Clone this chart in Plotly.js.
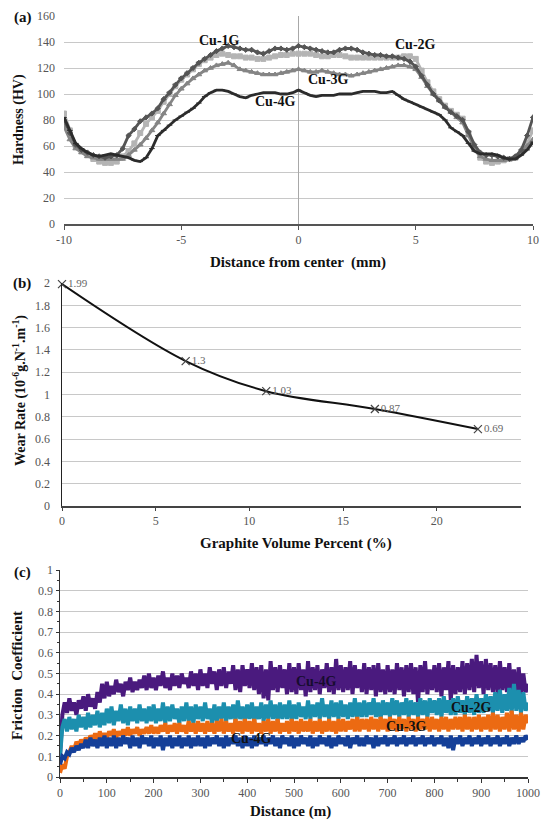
<!DOCTYPE html>
<html>
<head>
<meta charset="utf-8">
<script src="https://cdn.plot.ly/plotly-3.0.1.min.js"></script>
<style>
  html, body { margin: 0; padding: 0; background: #fff; }
  #chart { width: 542px; height: 820px; }
</style>
</head>
<body>
<div id="chart"></div>
<script>
// ---------- (a) hardness profiles ----------
const hardnessPos = [
  -10, -9.75, -9.5, -9.25, -9, -8.75, -8.5, -8.25,
  -8, -7.75, -7.5, -7.25, -7, -6.75, -6.5, -6.25,
  -6, -5.75, -5.5, -5.25, -5, -4.75, -4.5, -4.25,
  -4, -3.75, -3.5, -3.25, -3, -2.75, -2.5, -2.25,
  -2, -1.75, -1.5, -1.25, -1, -0.75, -0.5, -0.25,
  0, 0.25, 0.5, 0.75, 1, 1.25, 1.5, 1.75,
  2, 2.25, 2.5, 2.75, 3, 3.25, 3.5, 3.75,
  4, 4.25, 4.5, 4.75, 5, 5.25, 5.5, 5.75,
  6, 6.25, 6.5, 6.75, 7, 7.25, 7.5, 7.75,
  8, 8.25, 8.5, 8.75, 9, 9.25, 9.5, 9.75,
  10
];
const hardnessTickVals = [-10, -5, 0, 5, 10];
const hardnessTickText = ['-10', '-5', '0', '5', '10'];

const hardnessCu1G = [
  80, 70, 61, 57, 55, 53, 52, 51,
  52, 53, 58, 68, 73, 79, 82, 85,
  89, 96, 101, 107, 112, 116, 120, 124,
  127, 130, 133, 135, 137, 136, 135, 134,
  134, 132, 131, 133, 135, 135, 134, 135,
  137, 136, 135, 134, 133, 132, 132, 134,
  135, 135, 134, 132, 131, 130, 130, 129,
  129, 128, 127, 125, 121, 114, 107, 100,
  95, 90, 86, 83, 80, 71, 61, 55,
  53, 53, 52, 51, 50, 52, 57, 68,
  82
];
const hardnessCu2G = [
  85, 72, 60, 56, 53, 50, 48, 47,
  47, 48, 52, 56, 62, 70, 77, 82,
  87, 94, 100, 106, 111, 115, 119, 123,
  126, 128, 130, 131, 130, 129, 129, 128,
  128, 127, 127, 128, 129, 130, 130, 131,
  131, 131, 131, 130, 129, 129, 130, 130,
  129, 128, 128, 128, 128, 128, 128, 128,
  128, 128, 129, 129, 127, 118, 109, 102,
  96, 91, 87, 84, 81, 70, 58, 51,
  48, 47, 48, 49, 50, 51, 55, 62,
  72
];
const hardnessCu3G = [
  75, 65, 58, 55, 52, 51, 50, 50,
  50, 50, 50, 53, 57, 61, 66, 72,
  78, 85, 92, 99, 104, 108, 112, 115,
  118, 120, 122, 123, 124, 122, 119, 118,
  117, 116, 115, 115, 115, 116, 117, 118,
  119, 118, 117, 117, 118, 117, 116, 115,
  115, 114, 115, 116, 117, 118, 119, 120,
  121, 122, 122, 121, 119, 113, 106, 100,
  95, 90, 86, 82, 78, 68, 58, 52,
  50, 49, 49, 49, 50, 51, 55, 60,
  65
];
const hardnessCu4G = [
  82, 72, 62, 58, 55, 53, 52, 53,
  54, 53, 52, 51, 49, 48, 51, 58,
  68, 72, 76, 80, 83, 86, 89, 93,
  98, 101, 103, 103, 102, 100, 98, 97,
  99, 100, 101, 101, 101, 100, 100, 101,
  103, 101, 99, 98, 99, 99, 99, 100,
  100, 100, 101, 102, 102, 102, 101, 101,
  102, 99, 96, 94, 92, 90, 88, 86,
  84, 80, 74, 71, 68, 62, 56, 54,
  54, 54, 53, 51, 50, 50, 53, 57,
  63
];

// ---------- (b) wear rate ----------
const graphiteVol = [0, 6.6, 10.9, 16.7, 22.2];
const wearRate = [1.99, 1.3, 1.03, 0.87, 0.69];
const wearLabels = ['1.99', '1.3', '1.03', '0.87', '0.69'];

// ---------- (c) friction coefficient vs sliding distance (sampled every 5 m) ----------
const slideDist = [
  0, 5, 10, 15, 20, 25, 30, 35, 40, 45,
  50, 55, 60, 65, 70, 75, 80, 85, 90, 95,
  100, 105, 110, 115, 120, 125, 130, 135, 140, 145,
  150, 155, 160, 165, 170, 175, 180, 185, 190, 195,
  200, 205, 210, 215, 220, 225, 230, 235, 240, 245,
  250, 255, 260, 265, 270, 275, 280, 285, 290, 295,
  300, 305, 310, 315, 320, 325, 330, 335, 340, 345,
  350, 355, 360, 365, 370, 375, 380, 385, 390, 395,
  400, 405, 410, 415, 420, 425, 430, 435, 440, 445,
  450, 455, 460, 465, 470, 475, 480, 485, 490, 495,
  500, 505, 510, 515, 520, 525, 530, 535, 540, 545,
  550, 555, 560, 565, 570, 575, 580, 585, 590, 595,
  600, 605, 610, 615, 620, 625, 630, 635, 640, 645,
  650, 655, 660, 665, 670, 675, 680, 685, 690, 695,
  700, 705, 710, 715, 720, 725, 730, 735, 740, 745,
  750, 755, 760, 765, 770, 775, 780, 785, 790, 795,
  800, 805, 810, 815, 820, 825, 830, 835, 840, 845,
  850, 855, 860, 865, 870, 875, 880, 885, 890, 895,
  900, 905, 910, 915, 920, 925, 930, 935, 940, 945,
  950, 955, 960, 965, 970, 975, 980, 985, 990, 995,
  1000
];
const frictionPurple = [
  0.10, 0.30, 0.36, 0.31, 0.38, 0.32, 0.36, 0.30, 0.37, 0.33,
  0.39, 0.32, 0.40, 0.34, 0.38, 0.33, 0.41, 0.36, 0.45, 0.38,
  0.46, 0.39, 0.44, 0.40, 0.47, 0.41, 0.45, 0.39, 0.46, 0.42,
  0.48, 0.41, 0.46, 0.42, 0.47, 0.43, 0.49, 0.42, 0.50, 0.43,
  0.48, 0.42, 0.49, 0.44, 0.51, 0.43, 0.48, 0.42, 0.50, 0.44,
  0.49, 0.43, 0.50, 0.45, 0.48, 0.43, 0.51, 0.44, 0.50, 0.42,
  0.52, 0.44, 0.50, 0.43, 0.53, 0.45, 0.51, 0.42, 0.52, 0.44,
  0.53, 0.43, 0.51, 0.45, 0.54, 0.42, 0.52, 0.41, 0.54, 0.44,
  0.52, 0.43, 0.55, 0.42, 0.53, 0.40, 0.54, 0.38, 0.52, 0.37,
  0.56, 0.42, 0.53, 0.41, 0.54, 0.43, 0.52, 0.40, 0.55, 0.41,
  0.53, 0.40, 0.55, 0.42, 0.52, 0.39, 0.56, 0.41, 0.53, 0.42,
  0.54, 0.40, 0.52, 0.43, 0.55, 0.41, 0.53, 0.40, 0.57, 0.42,
  0.54, 0.41, 0.53, 0.42, 0.56, 0.40, 0.54, 0.43, 0.52, 0.41,
  0.55, 0.40, 0.53, 0.42, 0.54, 0.39, 0.55, 0.41, 0.52, 0.40,
  0.54, 0.41, 0.52, 0.40, 0.55, 0.42, 0.53, 0.39, 0.54, 0.41,
  0.55, 0.40, 0.53, 0.36, 0.54, 0.41, 0.56, 0.40, 0.52, 0.42,
  0.54, 0.41, 0.55, 0.39, 0.53, 0.42, 0.56, 0.37, 0.54, 0.40,
  0.53, 0.41, 0.56, 0.40, 0.55, 0.42, 0.57, 0.41, 0.59, 0.43,
  0.56, 0.40, 0.57, 0.42, 0.55, 0.41, 0.54, 0.40, 0.56, 0.42,
  0.53, 0.41, 0.55, 0.40, 0.52, 0.38, 0.53, 0.40, 0.50, 0.41,
  0.45
];
const frictionTeal = [
  0.10, 0.24, 0.28, 0.22, 0.29, 0.23, 0.28, 0.22, 0.30, 0.24,
  0.29, 0.23, 0.31, 0.24, 0.30, 0.25, 0.32, 0.24, 0.31, 0.25,
  0.33, 0.26, 0.34, 0.25, 0.32, 0.27, 0.35, 0.26, 0.33, 0.25,
  0.34, 0.27, 0.33, 0.26, 0.35, 0.27, 0.33, 0.26, 0.34, 0.27,
  0.35, 0.26, 0.33, 0.27, 0.36, 0.26, 0.34, 0.27, 0.35, 0.28,
  0.33, 0.26, 0.34, 0.27, 0.36, 0.27, 0.34, 0.26, 0.35, 0.28,
  0.34, 0.27, 0.36, 0.28, 0.33, 0.26, 0.35, 0.27, 0.34, 0.28,
  0.36, 0.27, 0.34, 0.28, 0.35, 0.27, 0.37, 0.28, 0.34, 0.27,
  0.35, 0.28, 0.36, 0.27, 0.34, 0.28, 0.36, 0.27, 0.35, 0.28,
  0.37, 0.28, 0.35, 0.27, 0.36, 0.28, 0.35, 0.28, 0.37, 0.27,
  0.35, 0.28, 0.36, 0.29, 0.34, 0.28, 0.37, 0.28, 0.35, 0.29,
  0.36, 0.28, 0.38, 0.29, 0.35, 0.28, 0.37, 0.29, 0.36, 0.28,
  0.37, 0.29, 0.35, 0.28, 0.36, 0.29, 0.38, 0.28, 0.36, 0.29,
  0.37, 0.29, 0.36, 0.30, 0.38, 0.29, 0.36, 0.28, 0.37, 0.30,
  0.36, 0.29, 0.38, 0.30, 0.37, 0.29, 0.36, 0.30, 0.38, 0.29,
  0.37, 0.30, 0.36, 0.29, 0.38, 0.30, 0.37, 0.29, 0.38, 0.31,
  0.37, 0.30, 0.38, 0.29, 0.39, 0.31, 0.37, 0.30, 0.38, 0.30,
  0.39, 0.31, 0.37, 0.30, 0.39, 0.31, 0.38, 0.30, 0.40, 0.31,
  0.38, 0.31, 0.40, 0.32, 0.39, 0.31, 0.41, 0.32, 0.42, 0.31,
  0.40, 0.32, 0.43, 0.31, 0.45, 0.32, 0.42, 0.31, 0.41, 0.32,
  0.36
];
const frictionOrange = [
  0.02, 0.06, 0.04, 0.10, 0.12, 0.15, 0.13, 0.17, 0.15, 0.18,
  0.16, 0.19, 0.17, 0.20, 0.18, 0.21, 0.18, 0.22, 0.19, 0.21,
  0.19, 0.22, 0.20, 0.23, 0.19, 0.22, 0.20, 0.23, 0.20, 0.24,
  0.20, 0.23, 0.21, 0.24, 0.20, 0.23, 0.21, 0.24, 0.21, 0.25,
  0.21, 0.24, 0.21, 0.25, 0.22, 0.26, 0.21, 0.25, 0.22, 0.26,
  0.21, 0.26, 0.22, 0.25, 0.21, 0.27, 0.22, 0.26, 0.21, 0.27,
  0.22, 0.26, 0.21, 0.27, 0.22, 0.26, 0.21, 0.27, 0.22, 0.28,
  0.21, 0.27, 0.22, 0.26, 0.21, 0.28, 0.22, 0.27, 0.21, 0.28,
  0.22, 0.27, 0.21, 0.28, 0.22, 0.26, 0.21, 0.27, 0.22, 0.28,
  0.21, 0.27, 0.22, 0.28, 0.21, 0.26, 0.22, 0.27, 0.21, 0.28,
  0.22, 0.27, 0.21, 0.28, 0.22, 0.27, 0.22, 0.28, 0.21, 0.27,
  0.22, 0.28, 0.21, 0.27, 0.22, 0.28, 0.22, 0.27, 0.21, 0.28,
  0.22, 0.28, 0.22, 0.27, 0.23, 0.28, 0.22, 0.29, 0.22, 0.28,
  0.23, 0.28, 0.22, 0.29, 0.23, 0.28, 0.22, 0.29, 0.23, 0.28,
  0.22, 0.29, 0.23, 0.28, 0.22, 0.29, 0.23, 0.28, 0.22, 0.29,
  0.23, 0.28, 0.22, 0.29, 0.23, 0.28, 0.23, 0.29, 0.22, 0.29,
  0.23, 0.28, 0.22, 0.29, 0.23, 0.29, 0.22, 0.28, 0.23, 0.29,
  0.23, 0.29, 0.22, 0.30, 0.23, 0.29, 0.22, 0.29, 0.23, 0.30,
  0.22, 0.29, 0.23, 0.30, 0.22, 0.31, 0.23, 0.30, 0.22, 0.29,
  0.23, 0.31, 0.22, 0.32, 0.23, 0.30, 0.22, 0.31, 0.23, 0.30,
  0.26
];
const frictionBlue = [
  0.06, 0.10, 0.09, 0.12, 0.11, 0.14, 0.12, 0.15, 0.13, 0.16,
  0.14, 0.18, 0.14, 0.19, 0.15, 0.18, 0.14, 0.19, 0.15, 0.20,
  0.14, 0.19, 0.15, 0.20, 0.14, 0.19, 0.15, 0.20, 0.16, 0.19,
  0.14, 0.20, 0.15, 0.19, 0.14, 0.20, 0.16, 0.19, 0.15, 0.20,
  0.14, 0.19, 0.15, 0.20, 0.13, 0.19, 0.15, 0.20, 0.14, 0.19,
  0.15, 0.20, 0.14, 0.19, 0.15, 0.20, 0.14, 0.19, 0.15, 0.20,
  0.15, 0.19, 0.14, 0.20, 0.15, 0.19, 0.16, 0.20, 0.15, 0.19,
  0.14, 0.20, 0.15, 0.19, 0.16, 0.20, 0.15, 0.19, 0.14, 0.20,
  0.15, 0.19, 0.14, 0.20, 0.15, 0.19, 0.16, 0.20, 0.15, 0.19,
  0.16, 0.20, 0.15, 0.19, 0.14, 0.20, 0.16, 0.19, 0.15, 0.20,
  0.14, 0.19, 0.15, 0.20, 0.16, 0.19, 0.15, 0.20, 0.14, 0.19,
  0.15, 0.20, 0.16, 0.19, 0.15, 0.20, 0.14, 0.19, 0.15, 0.20,
  0.16, 0.19, 0.15, 0.20, 0.14, 0.19, 0.16, 0.20, 0.15, 0.19,
  0.15, 0.20, 0.16, 0.19, 0.14, 0.20, 0.15, 0.19, 0.16, 0.20,
  0.15, 0.19, 0.16, 0.20, 0.15, 0.19, 0.16, 0.20, 0.15, 0.19,
  0.16, 0.20, 0.15, 0.19, 0.16, 0.20, 0.15, 0.19, 0.16, 0.20,
  0.15, 0.19, 0.16, 0.20, 0.15, 0.19, 0.14, 0.20, 0.13, 0.19,
  0.16, 0.20, 0.15, 0.19, 0.16, 0.20, 0.15, 0.19, 0.16, 0.20,
  0.15, 0.19, 0.16, 0.20, 0.15, 0.19, 0.16, 0.20, 0.15, 0.19,
  0.16, 0.20, 0.15, 0.19, 0.16, 0.20, 0.16, 0.19, 0.17, 0.20,
  0.18
];

const SERIF = '"Liberation Serif", "Times New Roman", "DejaVu Serif", serif';
const W = 542, H = 820;
const px = v => v / W;           // horizontal pixel -> paper fraction
const py = v => 1 - v / H;       // vertical pixel (from top) -> paper fraction

const tickFont = { family: SERIF, size: 12, color: '#555' };
const curveLabelFont = { family: SERIF, size: 14, color: '#111' };

// hardness traces (light first so the darker curves sit on top)
const hardnessTraces = [
  { y: hardnessCu2G, color: '#b4b4b4', symbol: 'square', size: 5 },
  { y: hardnessCu3G, color: '#858585', symbol: 'triangle-up', size: 5 },
  { y: hardnessCu1G, color: '#555555', symbol: 'diamond', size: 4 },
  { y: hardnessCu4G, color: '#2c2c2c', symbol: 'line-ew-open', size: 4 }
].map(s => ({
  type: 'scatter', mode: 'lines+markers', x: hardnessPos, y: s.y,
  xaxis: 'x', yaxis: 'y', hoverinfo: 'skip',
  line: { color: s.color, width: 2.8 },
  marker: { symbol: s.symbol, size: s.size, color: s.color, line: { color: s.color, width: 1 } }
}));

const wearTrace = {
  type: 'scatter', mode: 'lines+markers+text', x: graphiteVol, y: wearRate,
  xaxis: 'x2', yaxis: 'y2', hoverinfo: 'skip',
  line: { color: '#111', width: 2, shape: 'spline', smoothing: 1 },
  marker: { symbol: 'x-thin', size: 8, color: '#444', line: { color: '#444', width: 1.2 } },
  text: wearLabels, textposition: 'middle right',
  textfont: { family: SERIF, size: 11, color: '#666' },
  cliponaxis: false
};

// noisy friction signals: dense jagged lines that read as solid bands
const frictionTraces = [
  { y: frictionPurple, color: '#4a1a7e' },
  { y: frictionTeal, color: '#1c8fae' },
  { y: frictionOrange, color: '#ec6a12' },
  { y: frictionBlue, color: '#143f98' }
].map(s => ({
  type: 'scatter', mode: 'lines', x: slideDist, y: s.y,
  xaxis: 'x3', yaxis: 'y3', hoverinfo: 'skip',
  line: { color: s.color, width: 4 }
}));

const titleFont = { family: SERIF, size: 15, color: '#111' };

const annotations = [
  // panel letters
  { text: '<b>(a)</b>', x: px(23), y: py(17) },
  { text: '<b>(b)</b>', x: px(22), y: py(283) },
  { text: '<b>(c)</b>', x: px(22), y: py(572) },
  // axis titles
  { text: '<b>Hardness (HV)</b>', x: px(19), y: py(120), textangle: -90, size: 14 },
  { text: '<b>Distance from center  (mm)</b>', x: px(298), y: py(262) },
  { text: '<b>Wear Rate (10<sup>-6</sup>g.N<sup>-1</sup>.m<sup>-1</sup>)</b>', x: px(19), y: py(391), textangle: -90, size: 14 },
  { text: '<b>Graphite Volume Percent (%)</b>', x: px(296), y: py(543) },
  { text: '<b>Friction  Coefficient</b>', x: px(17), y: py(676), textangle: -90 },
  { text: '<b>Distance (m)</b>', x: px(290), y: py(811) }
].map(a => ({
  text: a.text, x: a.x, y: a.y, xref: 'paper', yref: 'paper',
  xanchor: 'center', yanchor: 'middle', showarrow: false,
  textangle: a.textangle || 0,
  font: Object.assign({}, titleFont, a.size ? { size: a.size } : {})
})).concat([
  // curve labels, hardness panel
  { text: '<b>Cu-1G</b>', x: -3.35, y: 141.5, xref: 'x', yref: 'y' },
  { text: '<b>Cu-2G</b>', x: 4.97, y: 138, xref: 'x', yref: 'y' },
  { text: '<b>Cu-3G</b>', x: 1.26, y: 111.5, xref: 'x', yref: 'y' },
  { text: '<b>Cu-4G</b>', x: -1.0, y: 94, xref: 'x', yref: 'y' },
  // curve labels, friction panel
  { text: '<b>Cu-4G</b>', x: 549, y: 0.46, xref: 'x3', yref: 'y3', color: '#170c2e' },
  { text: '<b>Cu-2G</b>', x: 880, y: 0.338, xref: 'x3', yref: 'y3' },
  { text: '<b>Cu-3G</b>', x: 741, y: 0.242, xref: 'x3', yref: 'y3' },
  { text: '<b>Cu-4G</b>', x: 410, y: 0.184, xref: 'x3', yref: 'y3' }
].map(a => ({
  text: a.text, x: a.x, y: a.y, xref: a.xref, yref: a.yref,
  xanchor: 'center', yanchor: 'middle', showarrow: false,
  font: Object.assign({}, curveLabelFont, a.color ? { color: a.color } : {})
})));

const gridColor = '#c8c8c8';

const layout = {
  width: W, height: H,
  margin: { l: 0, r: 0, t: 0, b: 0 },
  paper_bgcolor: '#fff', plot_bgcolor: '#fff',
  showlegend: false,
  font: { family: SERIF, size: 12, color: '#555' },

  // (a)
  xaxis: {
    domain: [px(64), px(533)], anchor: 'y', range: [-10, 10],
    tickmode: 'array', tickvals: hardnessTickVals, ticktext: hardnessTickText,
    showgrid: false,
    zeroline: true, zerolinecolor: '#a8a8a8', zerolinewidth: 1,
    showline: true, linecolor: '#555', linewidth: 1.5,
    ticks: 'outside', ticklen: 4, tickcolor: '#555', tickfont: tickFont
  },
  yaxis: {
    domain: [py(224), py(16)], anchor: 'x', range: [0, 160], dtick: 20,
    showgrid: true, gridcolor: gridColor, zeroline: false, showline: false,
    ticks: '', ticklabelstandoff: 8, tickfont: tickFont
  },

  // (b)
  xaxis2: {
    domain: [px(62), px(521)], anchor: 'y2', range: [0, 24.5],
    tick0: 0, dtick: 5, showgrid: false, zeroline: false,
    showline: true, linecolor: '#444', linewidth: 1.5,
    ticks: 'outside', ticklen: 3, tickcolor: '#444', tickfont: tickFont
  },
  yaxis2: {
    domain: [py(506), py(283)], anchor: 'x2', range: [0, 2], dtick: 0.2,
    showgrid: true, gridcolor: gridColor, zeroline: false,
    showline: true, linecolor: '#222', linewidth: 1.5,
    ticks: '', ticklabelstandoff: 8, tickfont: tickFont
  },

  // (c)
  xaxis3: {
    domain: [px(60), px(528)], anchor: 'y3', range: [0, 1000],
    tick0: 0, dtick: 100, showgrid: false, zeroline: false,
    showline: true, linecolor: '#333', linewidth: 1.5,
    ticks: 'outside', ticklen: 4, tickcolor: '#333', tickfont: tickFont,
    minor: { dtick: 50, ticks: 'outside', ticklen: 3, tickcolor: '#333', showgrid: false }
  },
  yaxis3: {
    domain: [py(777), py(570)], anchor: 'x3', range: [0, 1], dtick: 0.1,
    showgrid: true, gridcolor: gridColor, zeroline: false,
    showline: true, linecolor: '#333', linewidth: 1.5,
    ticks: 'outside', ticklen: 3, tickcolor: '#333', tickfont: tickFont,
    minor: { dtick: 0.05, ticks: 'outside', ticklen: 2, tickcolor: '#333', showgrid: false }
  },

  annotations: annotations
};

Plotly.newPlot('chart',
  hardnessTraces.concat([wearTrace]).concat(frictionTraces),
  layout,
  { staticPlot: true, displayModeBar: false }
);
</script>
</body>
</html>
